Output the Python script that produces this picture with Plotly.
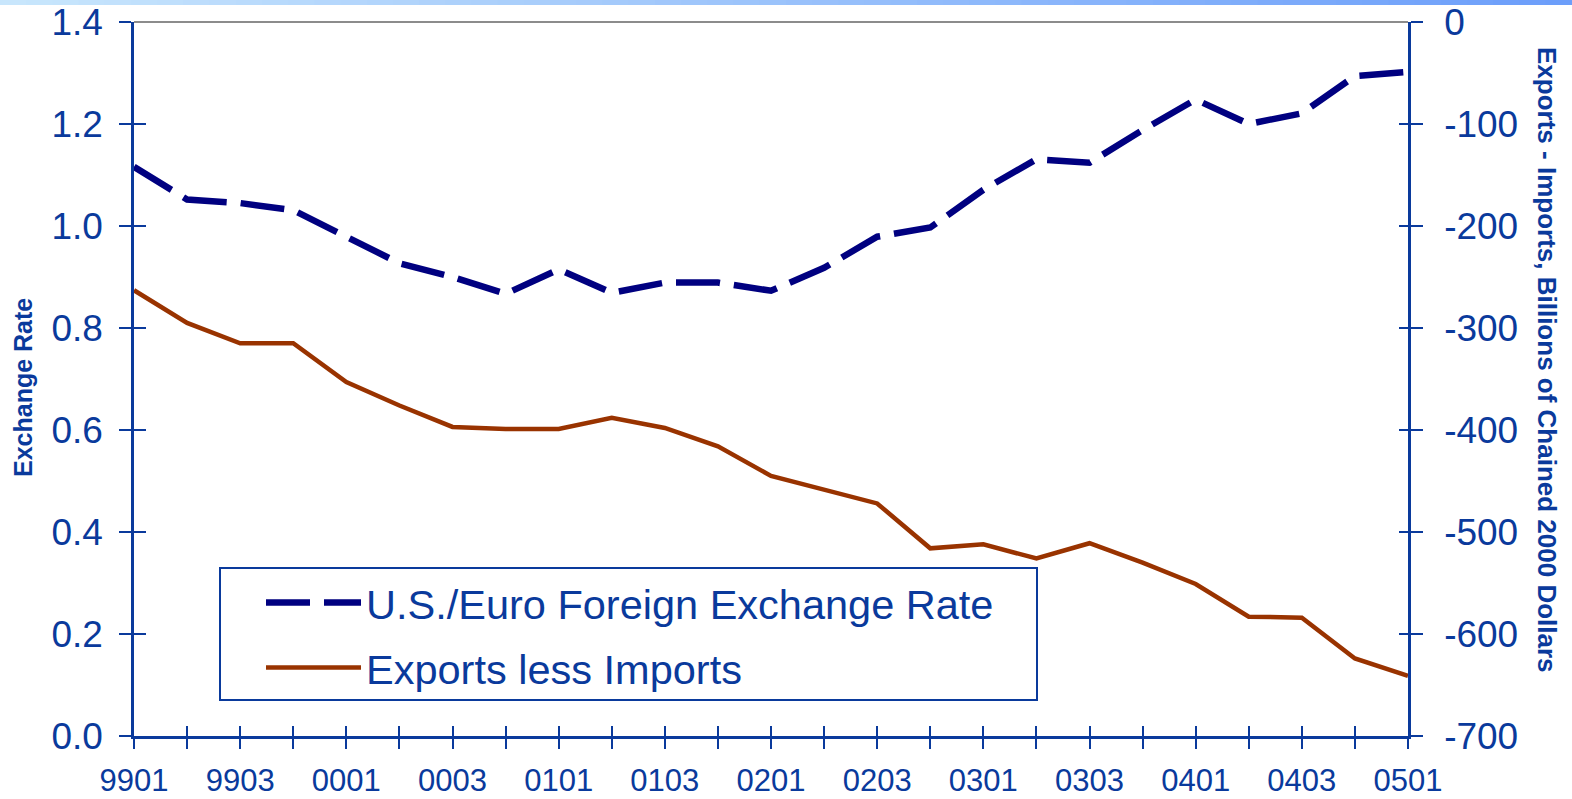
import plotly.graph_objects as go

# ---- data -------------------------------------------------------------
quarters = ['9901', '9902', '9903', '9904', '0001', '0002', '0003', '0004',
            '0101', '0102', '0103', '0104', '0201', '0202', '0203', '0204',
            '0301', '0302', '0303', '0304', '0401', '0402', '0403', '0404',
            '0501']
tick_text = ['9901', '', '9903', '', '0001', '', '0003', '',
             '0101', '', '0103', '', '0201', '', '0203', '',
             '0301', '', '0303', '', '0401', '', '0403', '',
             '0501']
exchange_rate = [1.116, 1.052, 1.045, 1.031, 0.979, 0.927, 0.900, 0.867,
                 0.915, 0.869, 0.889, 0.889, 0.873, 0.918, 0.979, 0.997,
                 1.071, 1.131, 1.124, 1.188, 1.248, 1.200, 1.221, 1.294,
                 1.302]
net_exports = [-263, -295, -315, -315, -353, -376, -397, -399,
               -399, -388, -398, -416, -445, -459, -472, -516,
               -512, -526, -511, -530, -551, -583, -584, -624,
               -641]

left_ticks = [0.0, 0.2, 0.4, 0.6, 0.8, 1.0, 1.2, 1.4]
right_ticks = [0, -100, -200, -300, -400, -500, -600, -700]
right_tick_text = ['0', '-100', '-200', '-300', '-400', '-500', '-600', '-700']

# ---- style ------------------------------------------------------------
BLUE = '#0a3a9c'
NAVY = '#000080'
BROWN = '#993300'
FONT = 'Liberation Sans, Arial, sans-serif'

fig = go.Figure()

fig.add_trace(go.Scatter(
    x=quarters, y=exchange_rate, name='U.S./Euro Foreign Exchange Rate',
    mode='lines', line=dict(color=NAVY, width=6.5, dash='44px,14px'),
    xaxis='x', yaxis='y', legendgroup='a'))
fig.add_trace(go.Scatter(
    x=quarters, y=net_exports, name='Exports less Imports',
    mode='lines', line=dict(color=BROWN, width=4.5),
    xaxis='x', yaxis='y2', legendgroup='b'))

# invisible helpers so the "inside" tick overlay axes get drawn
fig.add_trace(go.Scatter(x=quarters, y=exchange_rate, xaxis='x2', yaxis='y3',
                         mode='lines', opacity=0, showlegend=False,
                         hoverinfo='skip'))
fig.add_trace(go.Scatter(x=quarters, y=net_exports, xaxis='x2', yaxis='y4',
                         mode='lines', opacity=0, showlegend=False,
                         hoverinfo='skip'))

tickfont_y = dict(family=FONT, size=37, color=BLUE)
tickfont_x = dict(family=FONT, size=31, color=BLUE)

fig.update_layout(
    width=1572, height=799,
    margin=dict(l=134, r=164, t=22, b=63),
    paper_bgcolor='white', plot_bgcolor='white',
    font=dict(family=FONT, color=BLUE),
    showlegend=True,
    xaxis=dict(type='category', categoryorder='array', categoryarray=quarters,
               range=[0, 24], tickmode='array', tickvals=quarters,
               ticktext=tick_text, ticks='outside', ticklen=10, tickwidth=2,
               tickcolor=BLUE, showline=True, linecolor=BLUE, linewidth=2.5,
               showgrid=False, zeroline=False, tickfont=tickfont_x,
               ticklabelstandoff=5, automargin=False, fixedrange=True),
    xaxis2=dict(type='category', categoryorder='array', categoryarray=quarters,
                overlaying='x', anchor='y', side='bottom', range=[0, 24],
                tickmode='array', tickvals=quarters, ticks='inside',
                ticklen=10, tickwidth=2, tickcolor=BLUE,
                showticklabels=False, showline=False, showgrid=False,
                zeroline=False, automargin=False),
    yaxis=dict(range=[0, 1.4], tickmode='array', tickvals=left_ticks,
               tickformat='.1f', ticks='outside', ticklen=12, tickwidth=2,
               tickcolor=BLUE, showline=True, linecolor=BLUE, linewidth=2.5,
               showgrid=False, zeroline=False, tickfont=tickfont_y,
               ticklabelstandoff=9, automargin=False),
    yaxis2=dict(range=[-700, 0], overlaying='y', side='right', anchor='x',
                tickmode='array', tickvals=right_ticks,
                ticktext=right_tick_text, ticks='outside',
                ticklen=12, tickwidth=2, tickcolor=BLUE, showline=True,
                linecolor=BLUE, linewidth=2.5, showgrid=False, zeroline=False,
                tickfont=tickfont_y, ticklabelstandoff=14, automargin=False),
    yaxis3=dict(range=[0, 1.4], overlaying='y', side='left', anchor='x2',
                tickmode='array', tickvals=left_ticks, ticks='inside',
                ticklen=12, tickwidth=2, tickcolor=BLUE,
                showticklabels=False, showline=False, showgrid=False,
                zeroline=False, automargin=False),
    yaxis4=dict(range=[-700, 0], overlaying='y', side='right', anchor='x2',
                tickmode='array', tickvals=right_ticks, ticks='inside',
                ticklen=9, tickwidth=2, tickcolor=BLUE,
                showticklabels=False, showline=False, showgrid=False,
                zeroline=False, automargin=False),
    legend=dict(x=(261 - 134) / 1274, y=(736 - 569) / 714, xanchor='left',
                yanchor='top', bgcolor='rgba(0,0,0,0)', borderwidth=0,
                font=dict(family=FONT, size=41.5, color=BLUE),
                itemwidth=95, tracegroupgap=8, traceorder='grouped'),
)

# legend frame
fig.add_shape(type='rect', xref='paper', yref='paper',
              x0=(220 - 134) / 1274, x1=(1037 - 134) / 1274,
              y0=(736 - 700) / 714, y1=(736 - 568) / 714,
              line=dict(color=BLUE, width=2), fillcolor='white', layer='below')

# axis titles
fig.add_annotation(text='<b>Exchange Rate</b>', xref='paper', yref='paper',
                   x=(23 - 134) / 1274, y=(736 - 388) / 714, textangle=-90,
                   xanchor='center', yanchor='middle', showarrow=False,
                   font=dict(family=FONT, size=25, color=BLUE))
fig.add_annotation(text='<b>Exports - Imports, Billions of Chained 2000 Dollars</b>',
                   xref='paper', yref='paper', x=(1547 - 134) / 1274,
                   y=(736 - 360) / 714, textangle=90, xanchor='center',
                   yanchor='middle', showarrow=False,
                   font=dict(family=FONT, size=26, color=BLUE))

# top border of the plot (grey)
fig.add_shape(type='line', xref='paper', yref='paper', x0=0, x1=1, y0=1, y1=1,
              line=dict(color='#8c8c8c', width=2))

# decorative gradient bar at the very top of the page
n_steps = 60
x_left, x_right = -134 / 1274, 1438 / 1274
y_bot, y_top = (736 - 5) / 714, 736 / 714
c0 = (200, 230, 252)
c1 = (108, 158, 250)
for i in range(n_steps):
    t = i / (n_steps - 1)
    col = tuple(round(c0[k] + (c1[k] - c0[k]) * t) for k in range(3))
    xa = x_left + (x_right - x_left) * i / n_steps
    xb = x_left + (x_right - x_left) * (i + 1) / n_steps
    fig.add_shape(type='rect', xref='paper', yref='paper', x0=xa, x1=xb + 0.001,
                  y0=y_bot, y1=y_top, line=dict(width=0),
                  fillcolor='rgb(%d,%d,%d)' % col, layer='below')

fig.write_html('out.html',
               config={'displayModeBar': False},
               post_script="document.body.style.margin='0';"
                           "document.body.style.padding='0';")
